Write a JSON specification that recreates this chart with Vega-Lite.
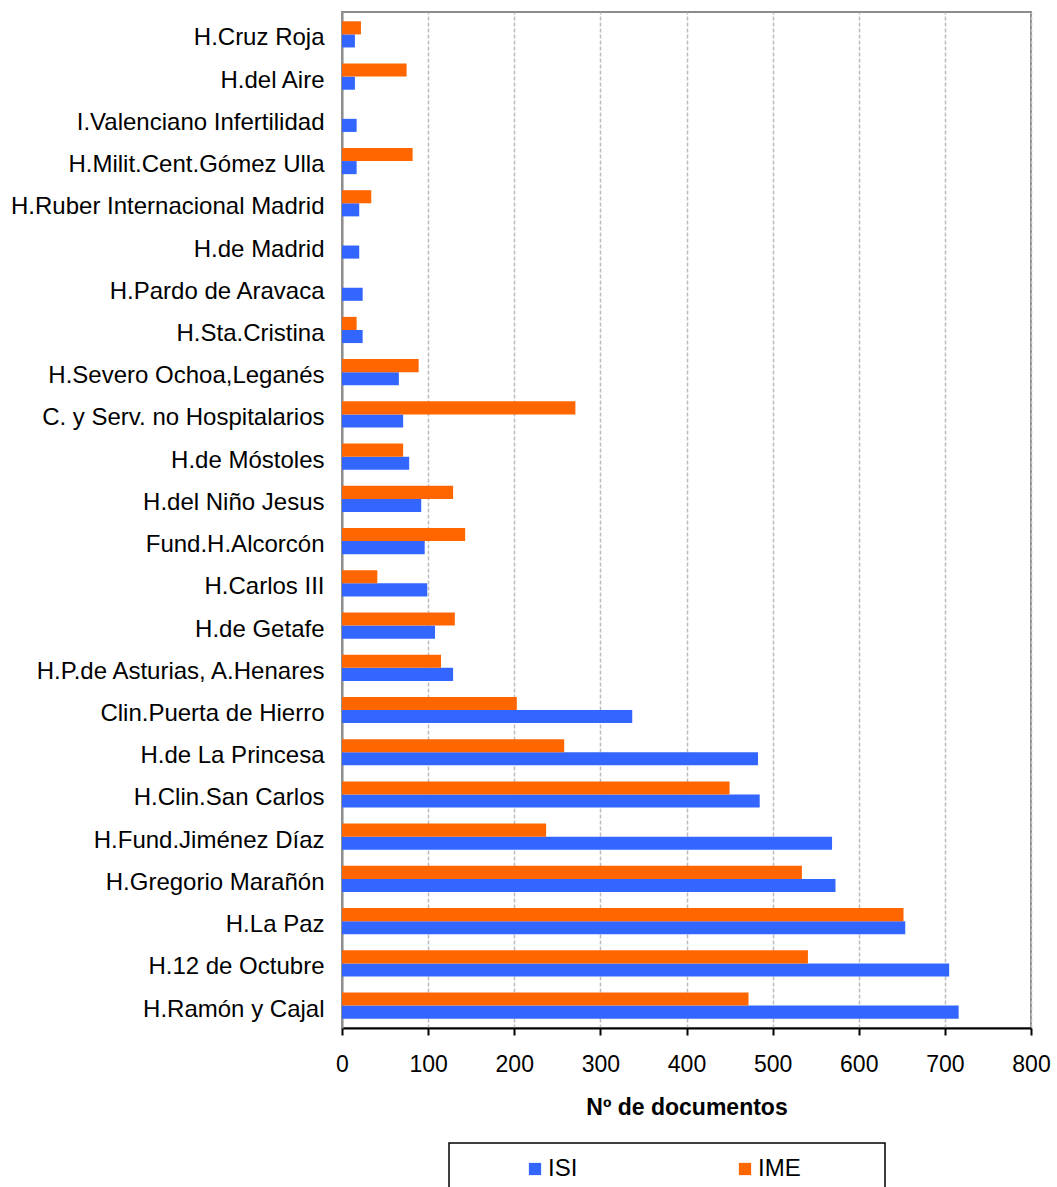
{
  "$schema": "https://vega.github.io/schema/vega-lite/v6.json",
  "width": 689,
  "height": 1016,
  "padding": {"left": 10, "top": 12, "right": 5, "bottom": 5},
  "config": {
    "font": "Liberation Sans",
    "view": {"stroke": "#8c8c8c", "strokeWidth": 2}
  },
  "data": {
    "values": [
      {"hosp": "H.Cruz Roja", "serie": "ISI", "n": 15},
      {"hosp": "H.Cruz Roja", "serie": "IME", "n": 22},
      {"hosp": "H.del Aire", "serie": "ISI", "n": 15},
      {"hosp": "H.del Aire", "serie": "IME", "n": 75},
      {"hosp": "I.Valenciano Infertilidad", "serie": "ISI", "n": 17},
      {"hosp": "I.Valenciano Infertilidad", "serie": "IME", "n": 0},
      {"hosp": "H.Milit.Cent.Gómez Ulla", "serie": "ISI", "n": 17},
      {"hosp": "H.Milit.Cent.Gómez Ulla", "serie": "IME", "n": 82},
      {"hosp": "H.Ruber Internacional Madrid", "serie": "ISI", "n": 20},
      {"hosp": "H.Ruber Internacional Madrid", "serie": "IME", "n": 34},
      {"hosp": "H.de Madrid", "serie": "ISI", "n": 20},
      {"hosp": "H.de Madrid", "serie": "IME", "n": 0},
      {"hosp": "H.Pardo de Aravaca", "serie": "ISI", "n": 24},
      {"hosp": "H.Pardo de Aravaca", "serie": "IME", "n": 0},
      {"hosp": "H.Sta.Cristina", "serie": "ISI", "n": 24},
      {"hosp": "H.Sta.Cristina", "serie": "IME", "n": 17},
      {"hosp": "H.Severo Ochoa,Leganés", "serie": "ISI", "n": 66},
      {"hosp": "H.Severo Ochoa,Leganés", "serie": "IME", "n": 89},
      {"hosp": "C. y Serv. no Hospitalarios", "serie": "ISI", "n": 71},
      {"hosp": "C. y Serv. no Hospitalarios", "serie": "IME", "n": 271},
      {"hosp": "H.de Móstoles", "serie": "ISI", "n": 78},
      {"hosp": "H.de Móstoles", "serie": "IME", "n": 71},
      {"hosp": "H.del Niño Jesus", "serie": "ISI", "n": 92},
      {"hosp": "H.del Niño Jesus", "serie": "IME", "n": 129},
      {"hosp": "Fund.H.Alcorcón", "serie": "ISI", "n": 96},
      {"hosp": "Fund.H.Alcorcón", "serie": "IME", "n": 143},
      {"hosp": "H.Carlos III", "serie": "ISI", "n": 99},
      {"hosp": "H.Carlos III", "serie": "IME", "n": 41},
      {"hosp": "H.de Getafe", "serie": "ISI", "n": 108},
      {"hosp": "H.de Getafe", "serie": "IME", "n": 131},
      {"hosp": "H.P.de Asturias, A.Henares", "serie": "ISI", "n": 129},
      {"hosp": "H.P.de Asturias, A.Henares", "serie": "IME", "n": 115},
      {"hosp": "Clin.Puerta de Hierro", "serie": "ISI", "n": 337},
      {"hosp": "Clin.Puerta de Hierro", "serie": "IME", "n": 203},
      {"hosp": "H.de La Princesa", "serie": "ISI", "n": 483},
      {"hosp": "H.de La Princesa", "serie": "IME", "n": 258},
      {"hosp": "H.Clin.San Carlos", "serie": "ISI", "n": 485},
      {"hosp": "H.Clin.San Carlos", "serie": "IME", "n": 450},
      {"hosp": "H.Fund.Jiménez Díaz", "serie": "ISI", "n": 569},
      {"hosp": "H.Fund.Jiménez Díaz", "serie": "IME", "n": 237},
      {"hosp": "H.Gregorio Marañón", "serie": "ISI", "n": 573},
      {"hosp": "H.Gregorio Marañón", "serie": "IME", "n": 534},
      {"hosp": "H.La Paz", "serie": "ISI", "n": 654},
      {"hosp": "H.La Paz", "serie": "IME", "n": 652},
      {"hosp": "H.12 de Octubre", "serie": "ISI", "n": 705},
      {"hosp": "H.12 de Octubre", "serie": "IME", "n": 541},
      {"hosp": "H.Ramón y Cajal", "serie": "ISI", "n": 716},
      {"hosp": "H.Ramón y Cajal", "serie": "IME", "n": 472}
    ]
  },
  "mark": {"type": "bar"},
  "encoding": {
    "y": {
      "field": "hosp",
      "type": "nominal",
      "sort": null,
      "scale": {"paddingInner": 0.38, "paddingOuter": 0.22},
      "axis": {
        "title": null,
        "labelFontSize": 24,
        "labelColor": "#000",
        "labelPadding": 18,
        "labelOffset": 4,
        "ticks": false,
        "domainColor": "#8c8c8c",
        "domainWidth": 2,
        "labelLimit": 400
      }
    },
    "yOffset": {"field": "serie", "type": "nominal", "sort": ["IME", "ISI"]},
    "x": {
      "field": "n",
      "type": "quantitative",
      "scale": {"domain": [0, 800], "nice": false},
      "axis": {
        "values": [0, 100, 200, 300, 400, 500, 600, 700, 800],
        "title": "Nº de documentos",
        "titleFontSize": 23,
        "titleFontWeight": "bold",
        "titleColor": "#000",
        "titlePadding": 20,
        "labelFontSize": 23,
        "labelColor": "#000",
        "labelPadding": 18,
        "labelFlush": false,
        "labelOverlap": false,
        "tickSize": 7,
        "tickColor": "#000",
        "tickWidth": 2,
        "domainColor": "#000",
        "domainWidth": 2,
        "gridColor": "#bdbdbd",
        "gridDash": [4, 2],
        "gridWidth": 1.5
      }
    },
    "color": {
      "field": "serie",
      "type": "nominal",
      "sort": ["ISI", "IME"],
      "scale": {"domain": ["ISI", "IME"], "range": ["#3366FF", "#FF6600"]},
      "legend": {
        "title": " ",
        "titleOrient": "right",
        "titlePadding": 70,
        "orient": "none",
        "legendX": 107,
        "legendY": 1131,
        "direction": "horizontal",
        "symbolType": "square",
        "symbolSize": 150,
        "symbolStrokeWidth": 0,
        "labelFontSize": 24,
        "labelColor": "#000",
        "labelOffset": 1,
        "columnPadding": 95,
        "padding": 14,
        "strokeColor": "#000",
        "symbolOffset": 60,
        "encode": {"legend": {"update": {"strokeWidth": {"value": 1.5}}}}
      }
    }
  }
}
